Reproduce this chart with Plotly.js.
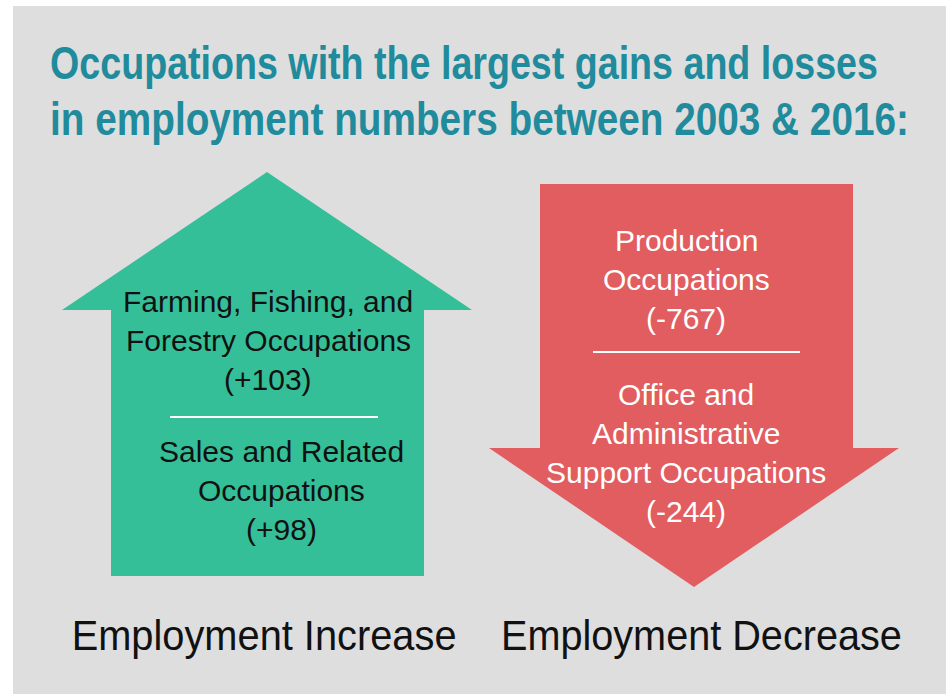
<!DOCTYPE html>
<html>
<head>
<meta charset="utf-8">
<script src="https://cdn.plot.ly/plotly-3.0.1.min.js"></script>
<style>html,body{margin:0;padding:0;background:#fff;}#chart{width:946px;height:694px;}</style>
</head>
<body>
<div id="chart"></div>
<script>
// ---- data ----
const titleLines = ["Occupations with the largest gains and losses", "in employment numbers between 2003 & 2016:"];
const gainOccupations = ["Farming, Fishing, and<br>Forestry Occupations", "Sales and Related<br>Occupations"];
const gainValues = [103, 98];
const lossOccupations = ["Production<br>Occupations", "Office and<br>Administrative<br>Support Occupations"];
const lossValues = [-767, -244];
const groupLabels = ["Employment Increase", "Employment Decrease"];

// ---- styling ----
const GREEN = "#35bf98", RED = "#e15d5f", TEAL = "#1f8b9c";
const BODY_FONT = "Liberation Sans, Arial, sans-serif";
const TITLE_FONT = "Liberation Sans";
const TITLE_SIZE = 46;
const GROUP_SIZE = 42;
const LINE_H = 39;

const canvas = document.createElement("canvas");
const ctx = canvas.getContext("2d");
function width(text, family, weight, size) {
  ctx.font = weight + " " + size + "px " + family;
  return ctx.measureText(text).width;
}

const annotations = [];
const shapes = [];
const hScale = [];   // horizontal scale per annotation (1 = none)

// title (condensed horizontally after render)
const titleTargets = [828, 859];
titleLines.forEach((t, i) => {
  annotations.push({x: 48, y: 63 + i * 56, xref: "x", yref: "y", text: "<b>" + t + "</b>", showarrow: false,
    xanchor: "left", yanchor: "middle",
    font: {family: TITLE_FONT, size: TITLE_SIZE, color: TEAL}});
  hScale.push({s: titleTargets[i] / width(t, '"' + TITLE_FONT + '"', "bold", TITLE_SIZE), pivot: "left"});
});

// arrows
shapes.push({type: "path", xref: "x", yref: "y", line: {width: 0}, fillcolor: GREEN,
  path: "M 267 172 L 472 310 L 424 310 L 424 576 L 111 576 L 111 310 L 62 310 Z"});
shapes.push({type: "path", xref: "x", yref: "y", line: {width: 0}, fillcolor: RED,
  path: "M 540 184 L 853 184 L 853 448 L 899 448 L 694 587 L 489 448 L 540 448 Z"});

// dividers
shapes.push({type: "line", xref: "x", yref: "y", x0: 170, x1: 378, y0: 417, y1: 417, line: {color: "#ffffff", width: 2}});
shapes.push({type: "line", xref: "x", yref: "y", x0: 593, x1: 800, y0: 352, y1: 352, line: {color: "#ffffff", width: 2}});

function fmt(v) { return "(" + (v > 0 ? "+" : "") + v + ")"; }

function block(label, value, cx, y0, color) {
  const lines = label.split("<br>").concat([fmt(value)]);
  lines.forEach((l, i) => {
    annotations.push({x: cx, y: y0 + i * LINE_H, xref: "x", yref: "y", text: l, showarrow: false,
      xanchor: "center", yanchor: "middle", font: {family: BODY_FONT, size: 30, color: color}});
    hScale.push({s: 1});
  });
}
block(gainOccupations[0], gainValues[0], 268, 301, "#111111");
block(gainOccupations[1], gainValues[1], 281, 451, "#111111");
block(lossOccupations[0], lossValues[0], 686, 240, "#ffffff");
block(lossOccupations[1], lossValues[1], 686, 394, "#ffffff");

// group labels
const groupTargets = [385, 401];
[264, 701].forEach((cx, i) => {
  annotations.push({x: cx, y: 635, xref: "x", yref: "y", text: groupLabels[i], showarrow: false,
    xanchor: "center", yanchor: "middle",
    font: {family: "Liberation Sans", size: GROUP_SIZE, color: "#111111"}});
  hScale.push({s: groupTargets[i] / width(groupLabels[i], '"Liberation Sans"', "normal", GROUP_SIZE), pivot: "center"});
});

const layout = {
  width: 946, height: 694,
  margin: {l: 13, r: 0, t: 6, b: 0, pad: 0},
  paper_bgcolor: "#ffffff", plot_bgcolor: "#dedede",
  showlegend: false,
  xaxis: {range: [13, 946], visible: false, fixedrange: true},
  yaxis: {range: [694, 6], visible: false, fixedrange: true},
  shapes: shapes, annotations: annotations
};

Plotly.newPlot("chart", [{x: [], y: [], type: "scatter", hoverinfo: "skip"}], layout, {displayModeBar: false, staticPlot: true})
.then(gd => {
  const texts = gd.querySelectorAll("g.annotation text.annotation-text");
  hScale.forEach((h, i) => {
    const el = texts[i];
    if (!el || h.s === 1) return;
    const bb = el.getBBox();
    const p = h.pivot === "left" ? bb.x : bb.x + bb.width / 2;
    const prev = el.getAttribute("transform") || "";
    el.setAttribute("transform", prev + " translate(" + p + ",0) scale(" + h.s + ",1) translate(" + (-p) + ",0)");
  });
});
</script>
</body>
</html>
